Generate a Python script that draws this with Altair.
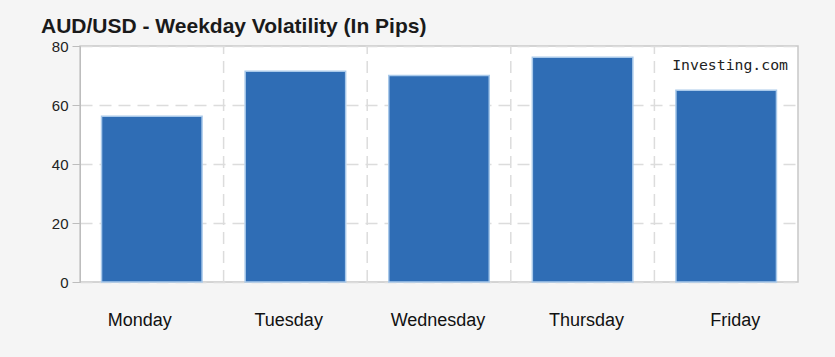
import altair as alt
import pandas as pd

days = ["Monday", "Tuesday", "Wednesday", "Thursday", "Friday"]
pips = [56.2, 71.4, 70.0, 76.2, 65.0]
y_ticks = [0, 10, 20, 30, 40, 50, 60, 70, 80]
watermark = ["Investing.com"]

df = pd.DataFrame({"day": days, "pips": pips})
df_sep = pd.DataFrame({"day": days[1:]})
df_wm = pd.DataFrame({"t": watermark})

FONT = "Liberation Sans"

y_axis = alt.Axis(
    values=y_ticks,
    title=None,
    labelExpr="datum.value % 20 === 0 ? datum.label : ''",
    labelFont=FONT,
    labelFontSize=15,
    labelColor="#222",
    labelPadding=4,
    tickColor="#bdbdbd",
    tickSize={"condition": {"test": "datum.value % 20 === 0", "value": 8}, "value": 5},
    domainColor="#bdbdbd",
    grid=True,
    gridColor="#dcdcdc",
    gridDash=[12, 7],
    gridWidth=1.5,
    gridOpacity={"condition": {"test": "datum.value % 20 === 0", "value": 1}, "value": 0},
)

label_shift = {
    "condition": [
        {"test": "datum.value === 'Monday'", "value": -12},
        {"test": "datum.value === 'Tuesday'", "value": -6.7},
        {"test": "datum.value === 'Wednesday'", "value": -1},
        {"test": "datum.value === 'Thursday'", "value": 4},
    ],
    "value": 9,
}

bars = alt.Chart(df).mark_bar(
    color="#2f6db5", stroke="#a9c9ea", strokeWidth=1.5
).encode(
    x=alt.X(
        "day:N",
        sort=days,
        scale=alt.Scale(paddingInner=0.3, paddingOuter=0.15),
        axis=alt.Axis(
            title=None,
            labelAngle=0,
            ticks=False,
            domain=False,
            labelFont=FONT,
            labelFontSize=18,
            labelColor="#111",
            labelPadding=29,
            labelOffset=label_shift,
        ),
    ),
    y=alt.Y("pips:Q", scale=alt.Scale(domain=[0, 80]), axis=y_axis),
)

seps = alt.Chart(df_sep).mark_rule(
    color="#dcdcdc", strokeDash=[12, 7], strokeWidth=1.5
).encode(
    x=alt.X(
        "day:N",
        sort=days,
        scale=alt.Scale(domain=days, paddingInner=0, paddingOuter=0),
        bandPosition=0,
        axis=None,
    ),
    y=alt.datum(0, type="quantitative"),
    y2=alt.datum(80),
)

wm = alt.Chart(df_wm).mark_text(
    font="DejaVu Sans Mono", fontSize=14.8, align="right", baseline="alphabetic", color="#222"
).encode(
    text="t:N",
    x=alt.value(708),
    y=alt.value(23.5),
)

chart = alt.layer(seps, bars, wm).resolve_scale(x="independent").properties(
    width=718,
    height=236,
    autosize=alt.AutoSizeParams(type="none"),
    padding={"left": 80, "top": 46, "right": 37, "bottom": 75},
    background="#f5f5f5",
    title=alt.TitleParams(
        "AUD/USD - Weekday Volatility (In Pips)",
        anchor="start",
        frame="group",
        font=FONT,
        fontSize=21,
        fontWeight="bold",
        color="#1a1a1a",
        dx=-39,
        offset=2,
    ),
).configure_view(fill="white", stroke="#c8c8c8", strokeWidth=1.5)

chart.save("out.html", embed_options={"renderer": "svg", "actions": False})
